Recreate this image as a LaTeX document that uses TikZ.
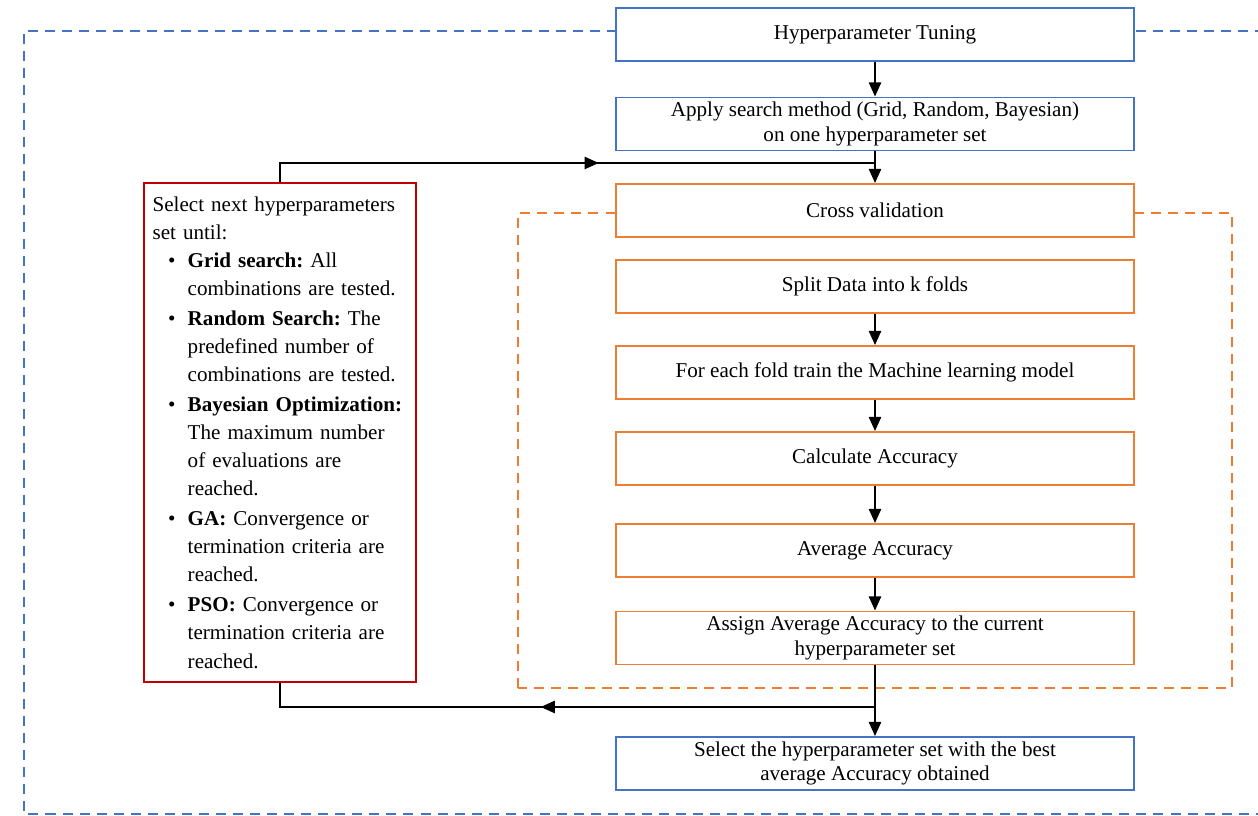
\documentclass[tikz,border=0pt]{standalone}
\usepackage{fontspec}
\setmainfont{Liberation Serif}
\usepackage{enumitem}
\usetikzlibrary{arrows.meta}
\usetikzlibrary{decorations.markings}

\definecolor{tuneblue}{RGB}{68,114,196}
\definecolor{cvorange}{RGB}{237,125,49}
\definecolor{loopred}{RGB}{192,0,0}

\tikzset{
    tunebox/.style={draw=tuneblue, line width=1.1pt, fill=white, minimum width=10.36cm, minimum height=1.06cm, inner sep=2pt, align=center},
    cvbox/.style={draw=cvorange, line width=1.1pt, fill=white, minimum width=10.36cm, minimum height=1.06cm, inner sep=2pt, align=center},
    loopbox/.style={draw=loopred, line width=1.1pt, fill=white, text width=145pt, minimum height=9.98cm, inner xsep=5pt, inner ysep=2pt, align=left},
    flow/.style={-{Triangle[length=8pt,width=7pt]}, line width=0.8pt},
    midflow/.style={line width=0.8pt, postaction={decorate}, decoration={markings, mark=at position #1 with {\arrow{Triangle[length=8pt,width=7pt]}}}},
}

\begin{document}
\begin{tikzpicture}[font=\fontsize{12}{13.8}\selectfont]
    \useasboundingbox (0,0) rectangle (25.16,16.32);

    % Frames:
    % The outer one runs off the right edge of the page
    \draw [tuneblue, line width=1.1pt, dash pattern=on 5.7pt off 4pt] (25.3,15.7) -- (0.48,15.7) -- (0.48,0.04) -- (25.3,0.04);
    \draw [cvorange, line width=1.1pt, dash pattern=on 5.7pt off 4pt] (10.36,2.56) rectangle (24.64,12.06);

    % Boxes
    \node [tunebox] (tuning) at (17.5,15.63) {Hyperparameter Tuning};
    \node [tunebox] (apply) at (17.5,13.84) {Apply search method (Grid, Random, Bayesian)\\ on one hyperparameter set};
    \node [cvbox] (cross) at (17.5,12.11) {Cross validation};
    \node [cvbox] (split) at (17.5,10.59) {Split Data into k folds};
    \node [cvbox] (fold) at (17.5,8.87) {For each fold train the Machine learning model};
    \node [cvbox] (calc) at (17.5,7.15) {Calculate Accuracy};
    \node [cvbox] (avg) at (17.5,5.31) {Average Accuracy};
    \node [cvbox] (assign) at (17.5,3.56) {Assign Average Accuracy to the current\\ hyperparameter set};
    \node [tunebox] (best) at (17.5,1.05) {Select the hyperparameter set with the best\\ average Accuracy obtained};

    % Stopping rules
    \node [loopbox, font=\fontsize{12}{16}\selectfont\frenchspacing] (next) at (5.6,7.67) {%
        Select next hyperparameters\newline set until:
        \begin{itemize}[label={\large\textbullet}, leftmargin=20pt, labelsep=7pt, topsep=0pt, partopsep=0pt, itemsep=1pt, parsep=0pt]
            \item \textbf{Grid search:} All\newline combinations are tested.
            \item \textbf{Random Search:} The\newline predefined number of\newline combinations are tested.
            \item \textbf{Bayesian Optimization:}\newline The maximum number\newline of evaluations are\newline reached.
            \item \textbf{GA:} Convergence or\newline termination criteria are\newline reached.
            \item \textbf{PSO:} Convergence or\newline termination criteria are\newline reached.
        \end{itemize}};

    % Arrows
    \foreach \a/\b in {tuning/apply, apply/cross, split/fold, fold/calc, calc/avg, avg/assign, assign/best}{%
        \draw [flow] (\a) -- (\b);
    }

    % Loop back and forth
    \coordinate (jtop) at (17.5,13.06);
    \coordinate (jbot) at (17.5,2.18);
    \draw [midflow=0.55] (next.north) |- (jtop);
    \draw [midflow=0.54] (jbot) -| (next.south);
\end{tikzpicture}
\end{document}
